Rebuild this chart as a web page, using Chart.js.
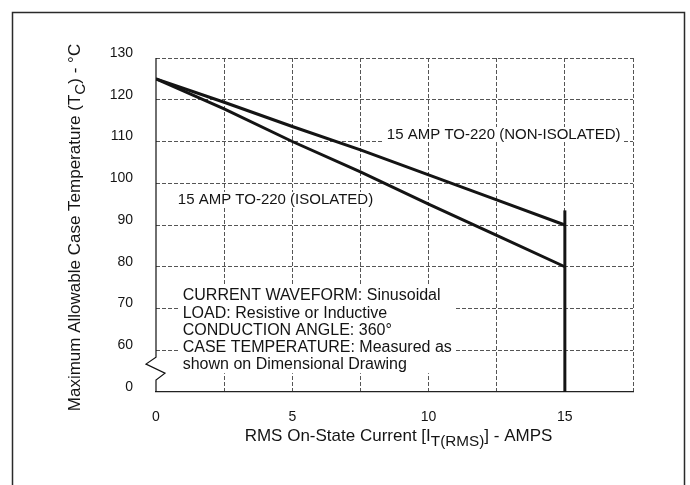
<!DOCTYPE html>
<html>
<head>
<meta charset="utf-8">
<script src="https://cdn.jsdelivr.net/npm/chart.js@4.4.1/dist/chart.umd.min.js"></script>
<style>
  html, body { margin: 0; padding: 0; background: #fff; }
  canvas { display: block; }
</style>
</head>
<body>
<canvas id="chart" width="690" height="485"></canvas>
<script>
// Current derating: max case temperature vs RMS on-state current
const currents = [0, 2.5, 5, 7.5, 10, 12.5, 15];
const nonIsolated = [125, 119.4, 113.6, 108, 102, 96, 90];
const isolated = [125, 117.8, 110, 102.7, 95, 87.5, 80];
// rated-current limit line at 15 A
const limitCurrent = [15, 15];
const limitTemp = [50, 93.5];

const yTickLabels = ['0', '60', '70', '80', '90', '100', '110', '120', '130'];
const xTickLabels = { 0: '0', 5: '5', 10: '10', 15: '15' };
const seriesNames = ['15 AMP TO-220 (NON-ISOLATED)', '15 AMP TO-220 (ISOLATED)'];
const notes = [
  'CURRENT WAVEFORM: Sinusoidal',
  'LOAD: Resistive or Inductive',
  'CONDUCTION ANGLE: 360°',
  'CASE TEMPERATURE: Measured as',
  'shown on Dimensional Drawing'
];

const FONT = '"Liberation Sans", Arial, Helvetica, sans-serif';
const INK = '#141414';
const GRID = '#555555';

function toPoints(xs, ys) { return xs.map((x, i) => ({ x: x, y: ys[i] })); }

// Draws a run of text pieces; pieces flagged sub are lowered and slightly smaller
function drawRich(ctx, pieces, x, y, size) {
  let cx = x;
  pieces.forEach(p => {
    const s = p.sub ? size * 0.9 : size;
    ctx.font = s + 'px ' + FONT;
    ctx.fillText(p.t, cx, y + (p.sub ? size * 0.3 : 0));
    cx += ctx.measureText(p.t).width;
  });
}
function richWidth(ctx, pieces, size) {
  let w = 0;
  pieces.forEach(p => {
    ctx.font = (p.sub ? size * 0.9 : size) + 'px ' + FONT;
    w += ctx.measureText(p.t).width;
  });
  return w;
}

const decorations = {
  id: 'decorations',
  beforeDatasetsDraw(chart) {
    const { ctx, scales: { x, y } } = chart;
    ctx.save();
    ctx.fillStyle = INK;
    ctx.textBaseline = 'middle';

    // series labels on white backing
    ctx.font = '15px ' + FONT;
    const labels = [
      { text: seriesNames[0], px: x.getPixelForValue(8.47), py: y.getPixelForValue(111.55) },
      { text: seriesNames[1], px: x.getPixelForValue(0.8), py: y.getPixelForValue(96) }
    ];
    labels.forEach(l => {
      const w = ctx.measureText(l.text).width;
      ctx.fillStyle = '#fff';
      ctx.fillRect(l.px - 3, l.py - 8, w + 6, 15);
      ctx.fillStyle = INK;
      ctx.fillText(l.text, l.px, l.py);
    });

    // test-condition notes box
    const bx = x.getPixelForValue(0.98);
    const bTop = y.getPixelForValue(75.5);
    const bBot = y.getPixelForValue(54.5);
    const bRight = x.getPixelForValue(10.95);
    ctx.fillStyle = '#fff';
    ctx.fillRect(bx - 3, bTop, bRight - bx + 3, bBot - bTop);
    ctx.fillStyle = INK;
    ctx.font = '16px ' + FONT;
    const first = y.getPixelForValue(73);
    notes.forEach((n, i) => ctx.fillText(n, bx, first + i * 17.2));
    ctx.restore();
  },
  afterDraw(chart) {
    const { ctx, scales: { x, y } } = chart;
    const left = x.getPixelForValue(0);
    ctx.save();

    // outer frame
    ctx.strokeStyle = '#2a2a2a';
    ctx.lineWidth = 1.5;
    ctx.beginPath();
    ctx.moveTo(12.5, 485);
    ctx.lineTo(12.5, 12.5);
    ctx.lineTo(684.5, 12.5);
    ctx.lineTo(684.5, 485);
    ctx.stroke();

    // left axis with break symbol between 50 and 60
    const mid = y.getPixelForValue(55);
    ctx.strokeStyle = '#111';
    ctx.lineWidth = 1.2;
    ctx.beginPath();
    ctx.moveTo(left, y.top);
    ctx.lineTo(left, mid - 14);
    ctx.lineTo(left - 10, mid - 7);
    ctx.lineTo(left + 9, mid + 2);
    ctx.lineTo(left, mid + 9);
    ctx.lineTo(left, y.bottom);
    ctx.stroke();

    // axis titles
    ctx.fillStyle = INK;
    ctx.textBaseline = 'alphabetic';
    const size = 17;
    const xTitle = [
      { t: 'RMS On-State Current [I' },
      { t: 'T(RMS)', sub: true },
      { t: '] - AMPS' }
    ];
    const xw = richWidth(ctx, xTitle, size);
    drawRich(ctx, xTitle, 398.5 - xw / 2, 441, size);

    const yTitle = [
      { t: 'Maximum Allowable Case Temperature (T' },
      { t: 'C', sub: true },
      { t: ') - °C' }
    ];
    const yw = richWidth(ctx, yTitle, size);
    ctx.translate(80, 227.5);
    ctx.rotate(-Math.PI / 2);
    drawRich(ctx, yTitle, -yw / 2, 0, size);
    ctx.restore();
  }
};

const lineStyle = {
  borderColor: INK,
  borderWidth: 3,
  pointRadius: 0,
  tension: 0,
  fill: false,
  borderCapStyle: 'butt',
  borderJoinStyle: 'miter'
};

new Chart(document.getElementById('chart'), {
  type: 'line',
  data: {
    datasets: [
      Object.assign({ label: seriesNames[0], data: toPoints(currents, nonIsolated) }, lineStyle),
      Object.assign({ label: seriesNames[1], data: toPoints(currents, isolated) }, lineStyle),
      Object.assign({ label: 'Rated current', data: toPoints(limitCurrent, limitTemp) }, lineStyle)
    ]
  },
  options: {
    responsive: false,
    animation: false,
    events: [],
    layout: { padding: { left: 0, top: 58, right: 57, bottom: 0 } },
    plugins: { legend: { display: false }, tooltip: { enabled: false } },
    scales: {
      x: {
        type: 'linear',
        min: 0,
        max: 17.5,
        afterFit(s) { s.height = 93; },
        ticks: {
          stepSize: 2.5,
          autoSkip: false,
          maxRotation: 0,
          padding: 17,
          color: INK,
          font: { family: FONT, size: 14 },
          callback: v => (xTickLabels[v] !== undefined ? xTickLabels[v] : '')
        },
        grid: {
          drawTicks: false,
          lineWidth: 1,
          color: c => (c.tick && c.tick.value === 0 ? 'rgba(0,0,0,0)' : GRID)
        },
        border: { display: true, color: '#222', width: 1.2, dash: [4, 2] }
      },
      y: {
        min: 50,
        max: 130,
        afterFit(s) { s.width = 156; },
        ticks: {
          stepSize: 10,
          padding: 23,
          labelOffset: -5,
          color: INK,
          font: { family: FONT, size: 14 },
          callback: (v, i) => yTickLabels[i]
        },
        grid: {
          drawTicks: false,
          lineWidth: 1,
          color: c => (c.tick && c.tick.value === 50 ? 'rgba(0,0,0,0)' : GRID)
        },
        border: { display: false, dash: [4, 2] }
      }
    }
  },
  plugins: [decorations]
});
</script>
</body>
</html>
